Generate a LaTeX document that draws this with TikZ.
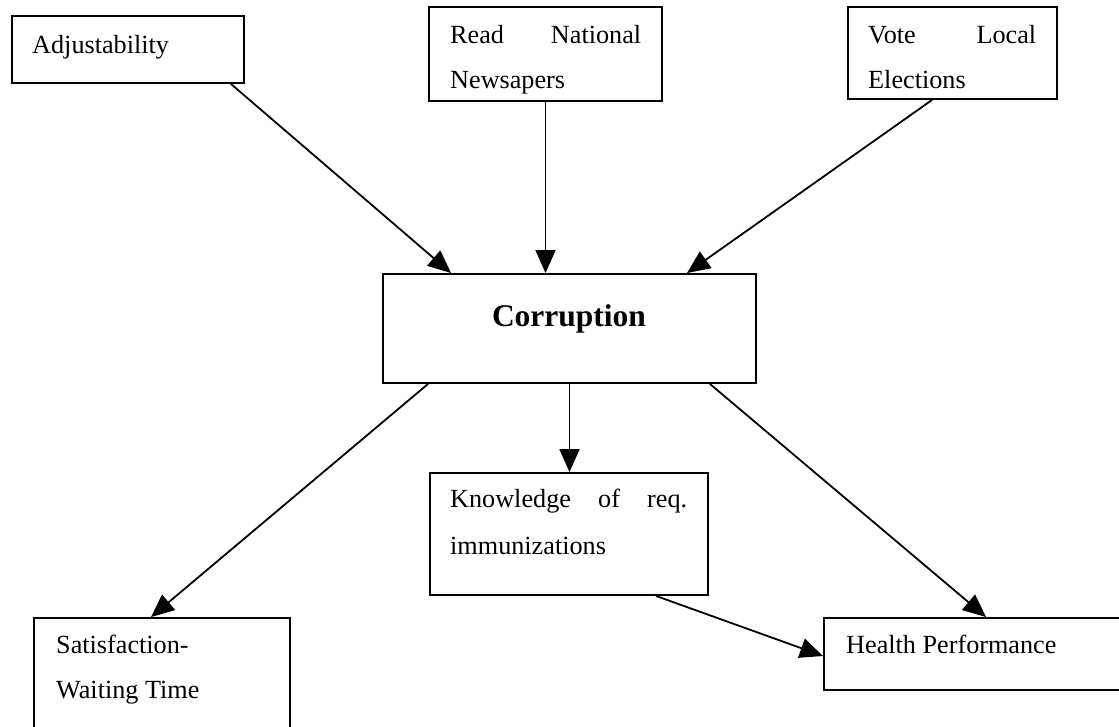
\documentclass[tikz,border=0pt]{standalone}
\usepackage{fontspec}
\setmainfont{Liberation Serif}
\usetikzlibrary{arrows.meta,calc}
\tikzset{
  box/.style={draw, line width=1.9pt, rectangle, inner sep=0pt},
  txt/.style={inner sep=0pt, font=\fontsize{26.2}{30}\selectfont},
  arr/.style={line width=1.8pt, -{Triangle[length=23pt,width=20pt]}}
}
\begin{document}
\begin{tikzpicture}[x=1pt,y=-1pt]
\useasboundingbox (0,0) rectangle (1119,726);
\clip (0,0) rectangle (1119,726);
% boxes
\node[box, minimum width=232pt, minimum height=67pt] (adj) at (128,49.5) {};
\node[box, minimum width=233pt, minimum height=94pt] (news) at (545.5,54) {};
\node[box, minimum width=209pt, minimum height=92pt] (vote) at (952.5,53) {};
\node[box, minimum width=373pt, minimum height=109pt] (corr) at (569.5,328.5) {};
\node[box, minimum width=278pt, minimum height=122pt] (know) at (569,534) {};
\node[box, minimum width=256pt, minimum height=122pt] (sat) at (162,679) {};
\node[box, minimum width=306pt, minimum height=72pt] (health) at (977,654) {};
% texts
\node[txt, anchor=base west] (adjt) at (32,53) {Adjustability};
\node[txt, anchor=base west] (newst1) at (450,43) {\makebox[191pt][s]{Read National}};
\node[txt, anchor=base west] (newst2) at (450,88) {Newsapers};
\node[txt, anchor=base west] (votet1) at (868,43) {\makebox[168pt][s]{Vote Local}};
\node[txt, anchor=base west] (votet2) at (868,88) {Elections};
\node[inner sep=0pt, font=\fontsize{31.5}{36}\selectfont\bfseries, anchor=base] (corrt) at (569,326) {Corruption};
\node[txt, anchor=base west] (knowt1) at (450,507) {\makebox[237pt][s]{Knowledge of req.}};
\node[txt, anchor=base west] (knowt2) at (450,554) {immunizations};
\node[txt, anchor=base west] (satt1) at (56,653) {Satisfaction-};
\node[txt, anchor=base west] (satt2) at (56,698) {Waiting Time};
\node[txt, anchor=base west] (healtht) at (846,653) {Health Performance};
% connectors
\draw[arr] ([xshift=-14pt]adj.south east) -- ([xshift=69pt]corr.north west);
\draw[arr] (news.south) -- (news.south |- corr.north);
\draw[arr] ([xshift=85pt]vote.south west) -- ([xshift=-70pt]corr.north east);
\draw[arr] ([xshift=46pt]corr.south west) -- ([xshift=118pt]sat.north west);
\draw[arr] (corr.south) -- (corr.south |- know.north);
\draw[arr] ([xshift=-47pt]corr.south east) -- ([xshift=163pt]health.north west);
\draw[arr] ([xshift=227pt]know.south west) -- ([yshift=-2pt]health.west);
\end{tikzpicture}
\end{document}
